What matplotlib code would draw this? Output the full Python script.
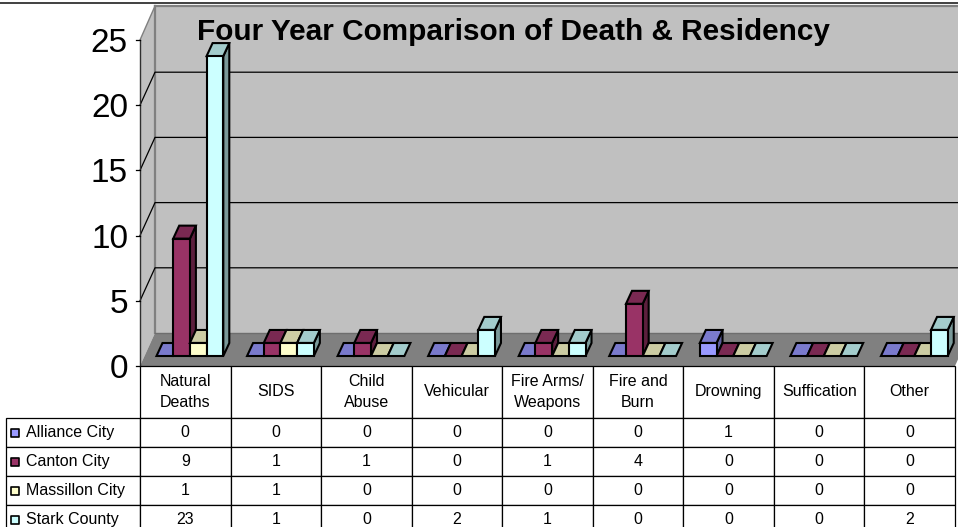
#Four year comparison chart (fake 3D column chart with data table)

#import the libraries
import matplotlib
matplotlib.use('Agg')
import matplotlib.pyplot as plt

plt.rcParams['font.family'] = ['Liberation Sans', 'DejaVu Sans']

#data
title = 'Four Year Comparison of Death & Residency'
categories = ['Natural\nDeaths', 'SIDS', 'Child\nAbuse', 'Vehicular', 'Fire Arms/\nWeapons',
              'Fire and\nBurn', 'Drowning', 'Suffication', 'Other']
series_names = ['Alliance City', 'Canton City', 'Massillon City', 'Stark County']
alliance = [0, 0, 0, 0, 0, 0, 1, 0, 0]
canton = [9, 1, 1, 0, 1, 4, 0, 0, 0]
massillon = [1, 1, 0, 0, 0, 0, 0, 0, 0]
stark = [23, 1, 0, 2, 1, 0, 0, 0, 2]
yticks = [0, 5, 10, 15, 20, 25]

series = [alliance, canton, massillon, stark]
front_colors = ['#9999FF', '#993366', '#FFFFCC', '#CCFFFF']
top_colors = ['#7A7ACC', '#7A2952', '#CCCCA3', '#A3CCCC']
side_colors = ['#5C5C99', '#5C1F3D', '#99997A', '#7A9999']

#pixel layout of the plot box
L, R, B, T = 140, 955, 366, 40
W_PX, H_PX = 958, 527
px_x = (R - L) / len(categories)
px_y = (B - T) / 25

fig = plt.figure(figsize=(W_PX / 100, H_PX / 100), dpi=100, facecolor='white')
ax = fig.add_axes([L / W_PX, 1 - B / H_PX, (R - L) / W_PX, (B - T) / H_PX])
ax.set_xlim(0, len(categories))
ax.set_ylim(0, 25)
ax.axis('off')

#depth of the walls and of the bars in data units
wall_dx = 15 / px_x
wall_dy = 33 / px_y
bar_dx = 6 / px_x
bar_dy = 13 / px_y
bar_w = 16.7 / px_x
bar_start = 16.5 / px_x
bar_base = 10 / px_y
n = len(categories)

#back wall, side wall and floor
top_y = 25 + 34 / px_y
ax.fill([wall_dx, n + wall_dx, n + wall_dx, wall_dx], [wall_dy, wall_dy, top_y, top_y],
        color='#C0C0C0', lw=0, clip_on=False, zorder=1)
ax.fill([0, wall_dx, wall_dx, 0], [0, wall_dy, top_y, 25],
        color='#C0C0C0', lw=0, clip_on=False, zorder=1)
ax.fill([0, n, n + wall_dx, wall_dx], [0, 0, wall_dy, wall_dy],
        color='#808080', lw=0, clip_on=False, zorder=1)
ax.plot([wall_dx, wall_dx], [wall_dy, top_y], color='#808080', lw=1.6, clip_on=False, zorder=2)
ax.plot([wall_dx, n + wall_dx], [top_y, top_y], color='#808080', lw=1.6, clip_on=False, zorder=2)
ax.plot([0, wall_dx], [25, top_y], color='#808080', lw=1, clip_on=False, zorder=2)

#gridlines
for t in yticks[1:-1]:
    ax.plot([0, wall_dx, n + wall_dx], [t, t + wall_dy, t + wall_dy], color='black', lw=0.9,
            clip_on=False, zorder=2)
ax.plot([wall_dx, n + wall_dx], [wall_dy, wall_dy], color='#6E6E6E', lw=1, clip_on=False, zorder=2)

#y axis
ax.plot([0, 0], [0, 25], color='#303030', lw=1, clip_on=False, zorder=3)
for t in yticks:
    ax.plot([-4 / px_x, 0], [t, t], color='black', lw=0.9, clip_on=False, zorder=3)
    ax.text(-12 / px_x, t, str(t), ha='right', va='center_baseline', fontsize=24, color='black')

#bars
z = 4
for c in range(n):
    for s in range(len(series)):
        v = series[s][c]
        x0 = c + bar_start + s * bar_w
        x1 = x0 + bar_w
        y0 = bar_base
        y1 = bar_base + v
        if v > 0:
            ax.fill([x1, x1 + bar_dx, x1 + bar_dx, x1], [y0, y0 + bar_dy, y1 + bar_dy, y1],
                    facecolor=side_colors[s], edgecolor='black', lw=1.5, clip_on=False, zorder=z)
        ax.fill([x0, x1, x1 + bar_dx, x0 + bar_dx], [y1, y1, y1 + bar_dy, y1 + bar_dy],
                facecolor=top_colors[s], edgecolor='black', lw=1.5, clip_on=False, zorder=z)
        if v > 0:
            ax.fill([x0, x1, x1, x0], [y0, y0, y1, y1],
                    facecolor=front_colors[s], edgecolor='black', lw=1.5, clip_on=False, zorder=z)
        z += 1

#title
fig.text(513 / W_PX, 1 - 32 / H_PX, title, ha='center', va='center', fontsize=21.4,
         fontweight='bold', color='black', zorder=50)

#line on the top edge of the picture
fig.add_artist(plt.Line2D([0, 1], [1 - 2.5 / H_PX, 1 - 2.5 / H_PX], color='#202020', lw=1.2))

#data table below the plot
cell_text = [[str(v) for v in row] for row in series]
col_w = 1 / n
label_w = (L - 6) / (R - L)
head_h = 52 / (B - T)
row_h = 29 / (B - T)
tbl_h = head_h + 4 * row_h
tbl = ax.table(cellText=cell_text, rowLabels=series_names, colLabels=categories,
               cellLoc='center', rowLoc='left', colLoc='center',
               bbox=[0, -tbl_h, 1, tbl_h], zorder=60)
tbl.auto_set_font_size(False)
tbl._autoColumns = []  # keep the width set below for the row label column
for (r, c), cell in tbl.get_celld().items():
    cell.set_linewidth(0.9)
    cell.set_edgecolor('black')
    cell.set_width(label_w if c == -1 else col_w)
    cell.set_height(head_h if r == 0 else row_h)
    cell.get_text().set_fontsize(11.5)
    cell.get_text().set_linespacing(1.5)
    if c == -1:
        cell.PAD = 0.15

#legend keys inside the row labels
for s in range(len(series)):
    ky = -head_h - (s + 0.5) * row_h
    ax.scatter([-label_w * 0.93], [ky], transform=ax.transAxes, marker='s', s=26,
               facecolor=front_colors[s], edgecolor='black', linewidth=1.2,
               clip_on=False, zorder=70)

fig.savefig('out.png', dpi=100)
